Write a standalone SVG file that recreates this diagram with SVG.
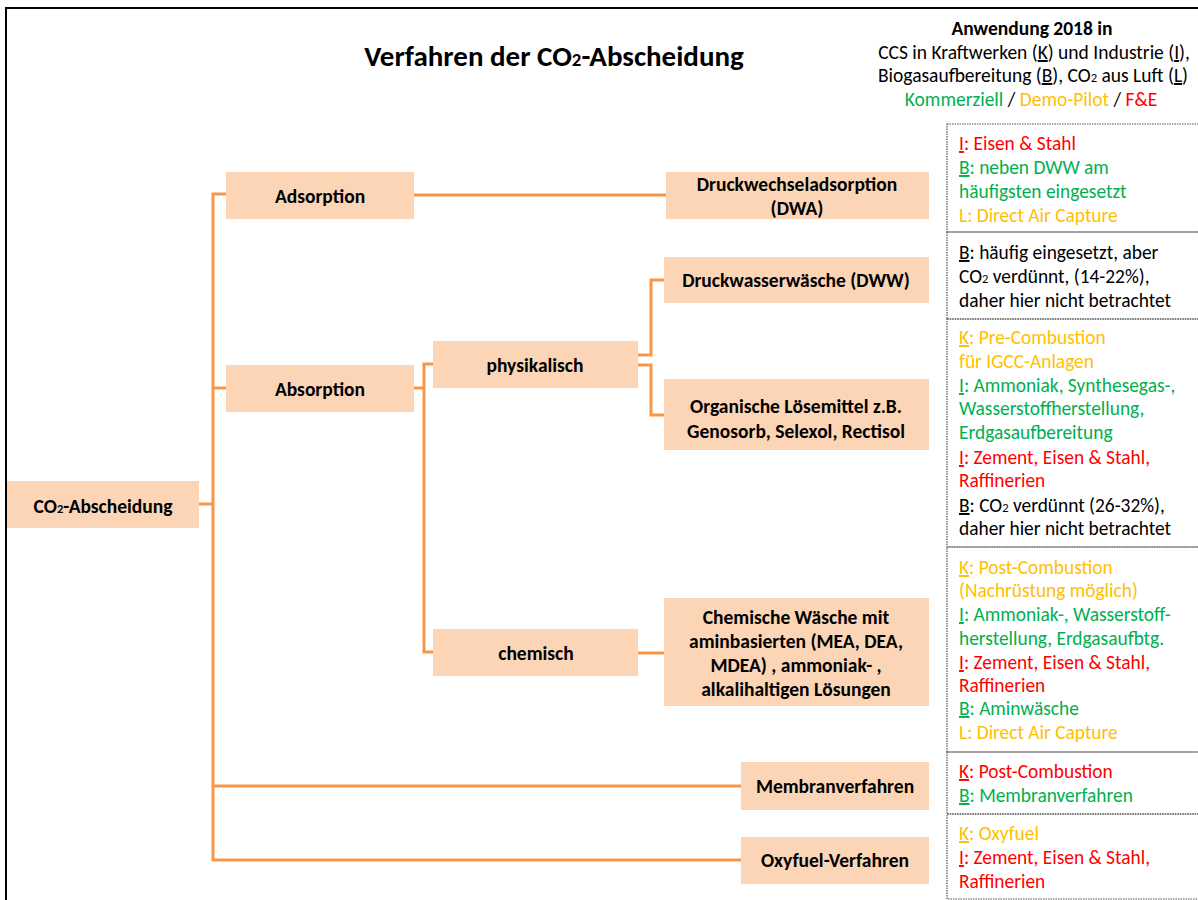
<svg xmlns="http://www.w3.org/2000/svg" width="1198" height="900" viewBox="0 0 1198 900">
  <style>
    text { font-family: Carlito, Lato, "Liberation Sans", sans-serif; fill: #000; }
    .title { font-size: 29px; font-weight: bold; }
    .node rect { fill: #FBD5B5; }
    .node text { font-size: 19.5px; font-weight: bold; text-anchor: middle; }
    .conn { fill: none; stroke: #F79646; stroke-width: 3; }
    .panel { fill: none; stroke: #555; stroke-width: 1.2; stroke-dasharray: 1.5 1; }
    .info { font-size: 19.4px; }
    .hdr { font-size: 19.5px; text-anchor: middle; }
    .g { fill: #00B050; }
    .y { fill: #FFC000; }
    .r { fill: #FF0000; }
    .u { text-decoration: underline; }
    .sub { font-size: 0.65em; }
  </style>

  <!-- frame -->
  <path d="M6,900 V8 H1198" fill="none" stroke="#000" stroke-width="2"/>

  <!-- title -->
  <text class="title" x="554" y="66" text-anchor="middle">Verfahren der CO<tspan class="sub">2</tspan>-Abscheidung</text>

  <!-- legend -->
  <g id="legend">
    <text class="hdr" x="1032" y="35" font-weight="bold">Anwendung 2018 in</text>
    <text class="hdr" x="1034" y="59">CCS in Kraftwerken (<tspan class="u">K</tspan>) und Industrie (<tspan class="u">I</tspan>),</text>
    <text class="hdr" x="1033" y="82">Biogasaufbereitung (<tspan class="u">B</tspan>), CO<tspan class="sub">2</tspan> aus Luft (<tspan class="u">L</tspan>)</text>
    <text class="hdr" x="1031" y="106"><tspan class="g">Kommerziell</tspan> / <tspan class="y">Demo-Pilot</tspan> / <tspan class="r">F&amp;E</tspan></text>
  </g>

  <!-- connectors -->
  <g id="connectors" class="conn">
    <path d="M199,504 H213"/>
    <path d="M226,194 H213 V860 H741"/>
    <path d="M213,388 H226"/>
    <path d="M213,786 H741"/>
    <path d="M414,195 H666"/>
    <path d="M414,388 H424"/>
    <path d="M433,364 H424 V652 H433"/>
    <path d="M638,355 H651 V280 H664"/>
    <path d="M638,365 H651 V415 H664"/>
    <path d="M638,653 H664"/>
  </g>

  <!-- nodes -->
  <g id="n-co2" class="node">
    <rect x="7" y="481" width="192" height="47"/>
    <text x="103" y="513">CO<tspan class="sub">2</tspan>-Abscheidung</text>
  </g>
  <g id="n-adsorption" class="node">
    <rect x="226" y="172" width="188" height="47"/>
    <text x="320" y="203">Adsorption</text>
  </g>
  <g id="n-dwa" class="node">
    <rect x="666" y="172" width="263" height="47"/>
    <text x="797" y="191">Druckwechseladsorption</text>
    <text x="797" y="215">(DWA)</text>
  </g>
  <g id="n-absorption" class="node">
    <rect x="226" y="365" width="188" height="47"/>
    <text x="320" y="396">Absorption</text>
  </g>
  <g id="n-physikalisch" class="node">
    <rect x="433" y="341" width="205" height="47"/>
    <text x="535" y="372">physikalisch</text>
  </g>
  <g id="n-dww" class="node">
    <rect x="664" y="257" width="265" height="46"/>
    <text x="796" y="287">Druckwasserwäsche (DWW)</text>
  </g>
  <g id="n-organisch" class="node">
    <rect x="664" y="379" width="265" height="71"/>
    <text x="796" y="413">Organische Lösemittel z.B.</text>
    <text x="796" y="438">Genosorb, Selexol, Rectisol</text>
  </g>
  <g id="n-chemisch" class="node">
    <rect x="433" y="629" width="205" height="47"/>
    <text x="536" y="660">chemisch</text>
  </g>
  <g id="n-chemwaesche" class="node">
    <rect x="664" y="598" width="265" height="108"/>
    <text x="796" y="624">Chemische Wäsche mit</text>
    <text x="796" y="648">aminbasierten (MEA, DEA,</text>
    <text x="796" y="672">MDEA) , ammoniak- ,</text>
    <text x="796" y="696">alkalihaltigen Lösungen</text>
  </g>
  <g id="n-membran" class="node">
    <rect x="741" y="762" width="188" height="48"/>
    <text x="835" y="793">Membranverfahren</text>
  </g>
  <g id="n-oxyfuel" class="node">
    <rect x="741" y="837" width="188" height="47"/>
    <text x="835" y="867">Oxyfuel-Verfahren</text>
  </g>

  <!-- application panels -->
  <g id="p-dwa">
    <rect class="panel" x="947" y="124" width="255" height="108"/>
    <text class="info" x="959">
      <tspan x="959" y="150" class="r"><tspan class="u">I</tspan>: Eisen &amp; Stahl</tspan>
      <tspan x="959" y="174" class="g"><tspan class="u">B</tspan>: neben DWW am</tspan>
      <tspan x="959" y="198" class="g">häufigsten eingesetzt</tspan>
      <tspan x="959" y="222" class="y">L: Direct Air Capture</tspan>
    </text>
  </g>
  <g id="p-dww">
    <rect class="panel" x="947" y="232" width="255" height="87"/>
    <text class="info" x="959">
      <tspan x="959" y="259"><tspan class="u">B</tspan>: häufig eingesetzt, aber</tspan>
      <tspan x="959" y="283">CO<tspan class="sub">2</tspan> verdünnt, (14-22%),</tspan>
      <tspan x="959" y="307">daher hier nicht betrachtet</tspan>
    </text>
  </g>
  <g id="p-organisch">
    <rect class="panel" x="947" y="319" width="255" height="228"/>
    <text class="info" x="959">
      <tspan x="959" y="344" class="y"><tspan class="u">K</tspan>: Pre-Combustion</tspan>
      <tspan x="959" y="368" class="y">für IGCC-Anlagen</tspan>
      <tspan x="959" y="392" class="g"><tspan class="u">I</tspan>: Ammoniak, Synthesegas-,</tspan>
      <tspan x="959" y="415" class="g">Wasserstoffherstellung,</tspan>
      <tspan x="959" y="439" class="g">Erdgasaufbereitung</tspan>
      <tspan x="959" y="464" class="r"><tspan class="u">I</tspan>: Zement, Eisen &amp; Stahl,</tspan>
      <tspan x="959" y="487" class="r">Raffinerien</tspan>
      <tspan x="959" y="512"><tspan class="u">B</tspan>: CO<tspan class="sub">2</tspan> verdünnt (26-32%),</tspan>
      <tspan x="959" y="535">daher hier nicht betrachtet</tspan>
    </text>
  </g>
  <g id="p-chemisch">
    <rect class="panel" x="947" y="547" width="255" height="205"/>
    <text class="info" x="959">
      <tspan x="959" y="574" class="y"><tspan class="u">K</tspan>: Post-Combustion</tspan>
      <tspan x="959" y="597" class="y">(Nachrüstung möglich)</tspan>
      <tspan x="959" y="621" class="g"><tspan class="u">I</tspan>: Ammoniak-, Wasserstoff-</tspan>
      <tspan x="959" y="645" class="g">herstellung, Erdgasaufbtg.</tspan>
      <tspan x="959" y="669" class="r"><tspan class="u">I</tspan>: Zement, Eisen &amp; Stahl,</tspan>
      <tspan x="959" y="692" class="r">Raffinerien</tspan>
      <tspan x="959" y="715" class="g"><tspan class="u">B</tspan>: Aminwäsche</tspan>
      <tspan x="959" y="739" class="y">L: Direct Air Capture</tspan>
    </text>
  </g>
  <g id="p-membran">
    <rect class="panel" x="947" y="752" width="255" height="62"/>
    <text class="info" x="959">
      <tspan x="959" y="778" class="r"><tspan class="u">K</tspan>: Post-Combustion</tspan>
      <tspan x="959" y="802" class="g"><tspan class="u">B</tspan>: Membranverfahren</tspan>
    </text>
  </g>
  <g id="p-oxyfuel">
    <rect class="panel" x="947" y="814" width="255" height="85"/>
    <text class="info" x="959">
      <tspan x="959" y="840" class="y"><tspan class="u">K</tspan>: Oxyfuel</tspan>
      <tspan x="959" y="864" class="r"><tspan class="u">I</tspan>: Zement, Eisen &amp; Stahl,</tspan>
      <tspan x="959" y="888" class="r">Raffinerien</tspan>
    </text>
  </g>
</svg>
